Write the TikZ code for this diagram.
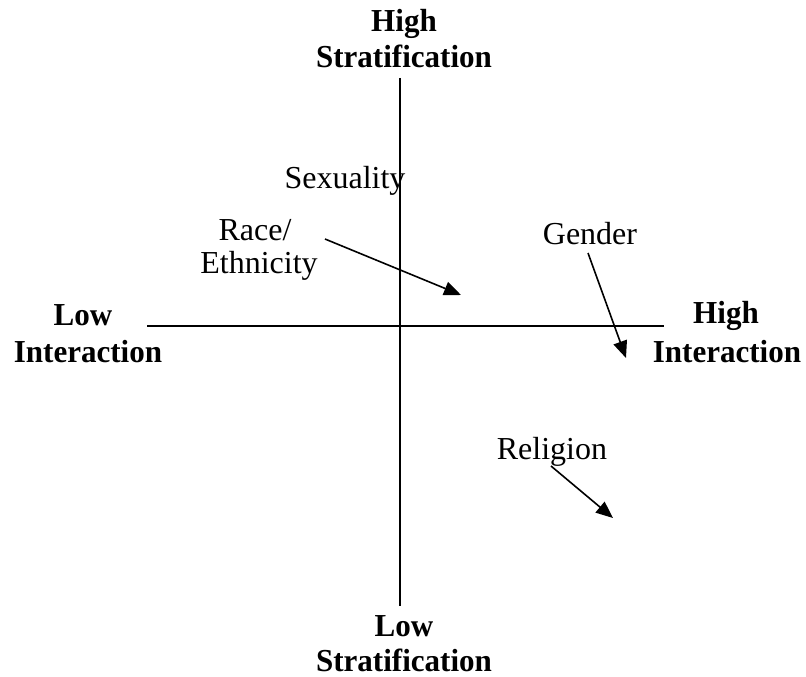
\documentclass[tikz,border=0pt]{standalone}
\usepackage{fontspec}
\setmainfont{Liberation Serif}
\usetikzlibrary{arrows.meta}
\begin{document}
\begin{tikzpicture}[x=1pt,y=-1pt,
  lbl/.style={font=\fontsize{32}{36}\selectfont, inner sep=0pt, anchor=base},
  blbl/.style={font=\fontsize{32}{36}\selectfont\bfseries, inner sep=0pt, anchor=base, xscale=0.97},
  axisline/.style={line width=2pt},
  arr/.style={line width=1.6pt, -{Triangle[length=17pt,width=14pt]}}]
\useasboundingbox (0,0) rectangle (806,677);
% axes
\coordinate (vtop) at (400,78);
\coordinate (vbot) at (400,606);
\coordinate (hleft) at (147,326);
\coordinate (hright) at (664,326);
\draw[axisline] (vtop) -- (vbot);
\draw[axisline] (hleft) -- (hright);
% axis labels
\node[blbl] (hs1) at (404,32) {High};
\node[blbl] (hs2) at (404,67) {Stratification};
\node[blbl] (ls1) at (404,636) {Low};
\node[blbl] (ls2) at (404,671) {Stratification};
\node[blbl] (li1) at (83,325) {Low};
\node[blbl] (li2) at (88,362) {Interaction};
\node[blbl] (hi1) at (726,323) {High};
\node[blbl] (hi2) at (727,362) {Interaction};
% items
\node[lbl] (sex) at (345,188) {Sexuality};
\node[lbl] (race1) at (255,240) {Race/};
\node[lbl] (race2) at (259,273) {Ethnicity};
\node[lbl] (gender) at (590,244) {Gender};
\node[lbl] (relig) at (552,459) {Religion};
% arrows
\coordinate (raceS) at (325,239);
\coordinate (raceE) at (461,295);
\coordinate (genS) at (588,253);
\coordinate (genE) at (626,358);
\coordinate (relS) at (551,466);
\coordinate (relE) at (613,518);
\draw[arr] (raceS) -- (raceE);
\draw[arr] (genS) -- (genE);
\draw[arr] (relS) -- (relE);
\end{tikzpicture}
\end{document}
